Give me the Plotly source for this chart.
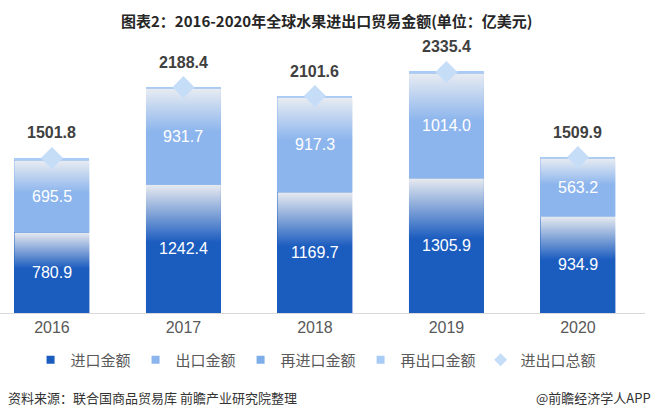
import plotly.graph_objects as go

years = ["2016", "2017", "2018", "2019", "2020"]
imports = [780.9, 1242.4, 1169.7, 1305.9, 934.9]
exports = [695.5, 931.7, 917.3, 1014.0, 563.2]
re_imports = [11.5, 6.5, 6.6, 7.0, 5.3]
re_exports = [13.9, 7.8, 8.0, 8.5, 6.5]
totals = [1501.8, 2188.4, 2101.6, 2335.4, 1509.9]
series_names = ["进口金额", "出口金额", "再进口金额", "再出口金额", "进出口总额"]

title = "图表2：2016-2020年全球水果进出口贸易金额(单位：亿美元)"
source = "资料来源：联合国商品贸易库 前瞻产业研究院整理"
brand = "@前瞻经济学人APP"

IMP_DARK = "#1b5cbf"
IMP_LIGHT = "#e8ebf0"
EXP_DARK = "#8cb5ed"
EXP_LIGHT = "#e8ecf2"
REIMP = "#7eaeea"
REEXP = "#a9ccf6"
DIAMOND = "#c6ddf8"

BW = 0.57
CN = "Noto Sans CJK SC"
NUM = "Liberation Sans, Arial, sans-serif"

xs = list(range(len(years)))
fig = go.Figure()

for vals, col, nm in [(imports, IMP_DARK, series_names[0]), (exports, EXP_DARK, series_names[1]),
                      (re_imports, REIMP, series_names[2]), (re_exports, REEXP, series_names[3])]:
    fig.add_trace(go.Bar(x=xs, y=vals, name=nm, width=BW, showlegend=False,
                         marker=dict(color=col, line=dict(width=0)), hoverinfo="skip"))

# gradient overlays for import / export segments
def grad_rect(i, y0, y1, dark, light):
    h = BW / 2
    fig.add_trace(go.Scatter(
        x=[i - h, i + h, i + h, i - h, i - h],
        y=[y0, y0, y1, y1, y0],
        mode="lines", line=dict(width=0), fill="toself",
        fillgradient=dict(type="vertical",
                          colorscale=[[0, dark], [0.55, dark], [1, light]]),
        showlegend=False, hoverinfo="skip"))

for i in xs:
    grad_rect(i, 0, imports[i], IMP_DARK, IMP_LIGHT)
    grad_rect(i, imports[i], imports[i] + exports[i], EXP_DARK, EXP_LIGHT)

fig.add_trace(go.Scatter(x=xs, y=totals, name=series_names[4], mode="markers", showlegend=False,
                         marker=dict(symbol="diamond", size=17, color=DIAMOND,
                                     line=dict(width=0)),
                         hoverinfo="skip"))

# legend entries (small symbols as in the reference)
for nm, col, sym, sz in [(series_names[0], IMP_DARK, "square", 8),
                         (series_names[1], EXP_DARK, "square", 8),
                         (series_names[2], REIMP, "square", 8),
                         (series_names[3], REEXP, "square", 8),
                         (series_names[4], DIAMOND, "diamond", 10)]:
    fig.add_trace(go.Scatter(x=[None], y=[None], mode="markers", name=nm,
                             marker=dict(symbol=sym, size=sz, color=col, line=dict(width=0))))

ann = []
for i in xs:
    ann.append(dict(x=i, y=imports[i] / 2, text=f"{imports[i]:.1f}", showarrow=False,
                    font=dict(family=NUM, size=16, color="white")))
    ann.append(dict(x=i, y=imports[i] + exports[i] / 2, text=f"{exports[i]:.1f}", showarrow=False,
                    font=dict(family=NUM, size=16, color="white")))
    ann.append(dict(x=i, y=totals[i], yshift=25, text=f"<b>{totals[i]:.1f}</b>", showarrow=False,
                    font=dict(family=NUM, size=16, color="#404040")))

ann.append(dict(xref="paper", yref="paper", x=0.507, xanchor="center", y=1, yanchor="bottom",
                yshift=7, text=f"<b>{title}</b>", showarrow=False,
                font=dict(family=CN, size=15, color="#262626")))
ann.append(dict(xref="paper", yref="paper", x=0, xanchor="left", xshift=6, y=-0.308, yanchor="middle",
                text=source, showarrow=False, font=dict(family=CN, size=13, color="#333333")))
ann.append(dict(xref="paper", yref="paper", x=1, xanchor="right", xshift=8, y=-0.308, yanchor="middle",
                text=brand, showarrow=False, font=dict(family=CN, size=13, color="#333333")))

fig.update_layout(
    width=653, height=418,
    margin=dict(l=0, r=8, t=40, b=105),
    barmode="stack",
    plot_bgcolor="white", paper_bgcolor="white",
    showlegend=True,
    legend=dict(orientation="h", x=0.49, xanchor="center", y=-0.172, yanchor="middle",
                font=dict(family=CN, size=15, color="#595959"), traceorder="normal",
                itemwidth=30),
    xaxis=dict(range=[-0.395, 4.51], tickvals=xs, ticktext=years, showgrid=False,
               zeroline=False, showline=True, linecolor="#d9d9d9", linewidth=1,
               ticks="", tickfont=dict(family=NUM, size=16, color="#595959")),
    yaxis=dict(range=[0, 2645], visible=False, showgrid=False, zeroline=False),
    annotations=ann,
)

fig.write_html("out.html", config={"displayModeBar": False},
               post_script="document.body.style.margin='0';document.body.style.padding='0';")
